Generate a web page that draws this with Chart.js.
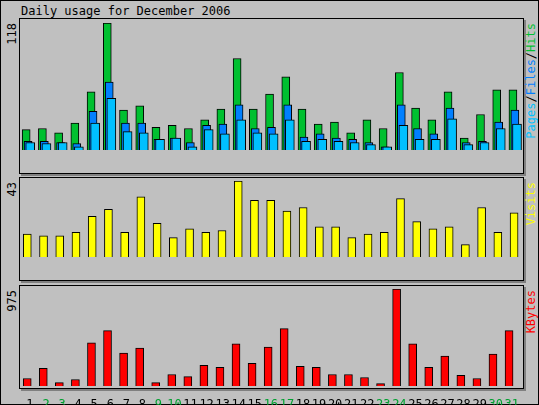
<!DOCTYPE html>
<html>
<head>
<meta charset="utf-8">
<script src="https://cdn.jsdelivr.net/npm/chart.js@4"></script>
<style>
  body { margin: 0; background: #c0c0c0; }
  #frame { position: absolute; left: 0; top: 0; width: 537px; height: 403px; border: 1px solid #000; background: #c0c0c0; font-family: "DejaVu Sans Mono", monospace; }
  .box { position: absolute; left: 18px; width: 503px; border: 1px solid #000; box-shadow: 2px 2px 0 #808080; }
  .cv { position: absolute; left: 19px; width: 503px; }
  .vt { position: absolute; writing-mode: vertical-rl; transform: rotate(180deg); font-size: 12px; white-space: nowrap; }
  #title { position: absolute; left: 20px; top: 3px; font-size: 12px; }
</style>
</head>
<body>
<div id="frame">
  <div id="title">Daily usage for December 2006</div>
  <div class="box" style="top:17px;height:154px"></div>
  <div class="box" style="top:176px;height:102px"></div>
  <div class="box" style="top:284px;height:102px"></div>
  <div class="cv" style="top:18px;height:153px"><canvas id="c1"></canvas></div>
  <div class="cv" style="top:177px;height:101px"><canvas id="c2"></canvas></div>
  <div class="cv" style="top:285px;height:119px"><canvas id="c3"></canvas></div>
  <div class="vt" style="left:4px;top:22px">118</div>
  <div class="vt" style="left:4px;top:181px">43</div>
  <div class="vt" style="left:4px;top:289px">975</div>
  <div class="vt" style="left:523px;top:22px"><span style="color:#00c0ff">Pages</span>/<span style="color:#0080ff">Files</span>/<span style="color:#00c030">Hits</span></div>
  <div class="vt" style="left:523px;top:181px;color:#ffff00">Visits</div>
  <div class="vt" style="left:523px;top:289px;color:#ff0000">KBytes</div>
</div>
<script>
const days = ['1','2','3','4','5','6','7','8','9','10','11','12','13','14','15','16','17','18','19','20','21','22','23','24','25','26','27','28','29','30','31'];
const weekend = [2,3,9,10,16,17,23,24,30,31];
const hits = [19,20,16,25,54,118,37,41,21,23,20,28,38,85,38,52,68,38,24,26,16,28,20,72,39,28,54,11,33,56,56];
const files = [8,8,7,6,36,63,25,25,10,11,7,23,24,42,20,21,42,12,15,11,10,7,3,42,20,15,39,7,8,26,37];
const pages = [7,6,7,3,25,48,17,16,10,11,3,19,15,28,16,15,28,8,10,8,7,5,3,23,10,10,29,5,7,20,24];
const visits = [13,12,12,14,23,27,14,34,19,11,16,14,15,43,32,32,26,28,17,17,11,13,14,33,20,16,17,7,28,14,25];
const kbytes = [75,177,34,65,433,556,331,382,34,116,95,208,188,423,228,392,576,198,188,116,116,85,24,975,423,188,300,106,75,320,556];

function pts(arr, off) {
  return arr.map((v, i) => ({ x: i + 1 + off, y: v }));
}
function bar(label, data, off, color, w, order) {
  return { label: label, data: pts(data, off), backgroundColor: color, borderColor: '#000', borderWidth: 1, barThickness: w, grouped: false, order: order };
}
function opts(max, pad, showX) {
  return {
    responsive: true, maintainAspectRatio: false, animation: false,
    layout: { padding: { top: pad, bottom: showX ? 0 : 3, left: 0, right: 0 } },
    plugins: { legend: { display: false }, tooltip: { enabled: false } },
    scales: {
      x: {
        type: 'linear', min: 0.5, max: 31.5, offset: false,
        grid: { display: false }, border: { display: false },
        display: showX,
        afterBuildTicks: s => { s.ticks = days.map((d, i) => ({ value: i + 1.12 })); },
        afterFit: s => { s.height = 19; },
        ticks: {
          autoSkip: false, maxRotation: 0, padding: 4,
          font: { family: 'DejaVu Sans Mono', size: 12 },
          color: c => weekend.includes(Math.round(c.tick.value)) ? '#00a030' : '#000',
          callback: v => days[Math.round(v) - 1]
        }
      },
      y: { display: false, min: 0, max: max }
    }
  };
}

new Chart(document.getElementById('c1'), {
  type: 'bar',
  data: { datasets: [
    bar('Hits', hits, -0.12, '#00c030', 8, 3),
    bar('Files', files, 0, '#0080ff', 8, 2),
    bar('Pages', pages, 0.13, '#00c0ff', 9, 1)
  ] },
  options: opts(118, 4, false)
});
new Chart(document.getElementById('c2'), {
  type: 'bar',
  data: { datasets: [bar('Visits', visits, -0.05, '#ffff00', 8, 1)] },
  options: opts(43, 3, false)
});
const o3 = opts(975, 3, true);
o3.layout.padding.bottom = 0;
new Chart(document.getElementById('c3'), {
  type: 'bar',
  data: { datasets: [bar('KBytes', kbytes, -0.05, '#ff0000', 8, 1)] },
  options: o3
});
</script>
</body>
</html>
